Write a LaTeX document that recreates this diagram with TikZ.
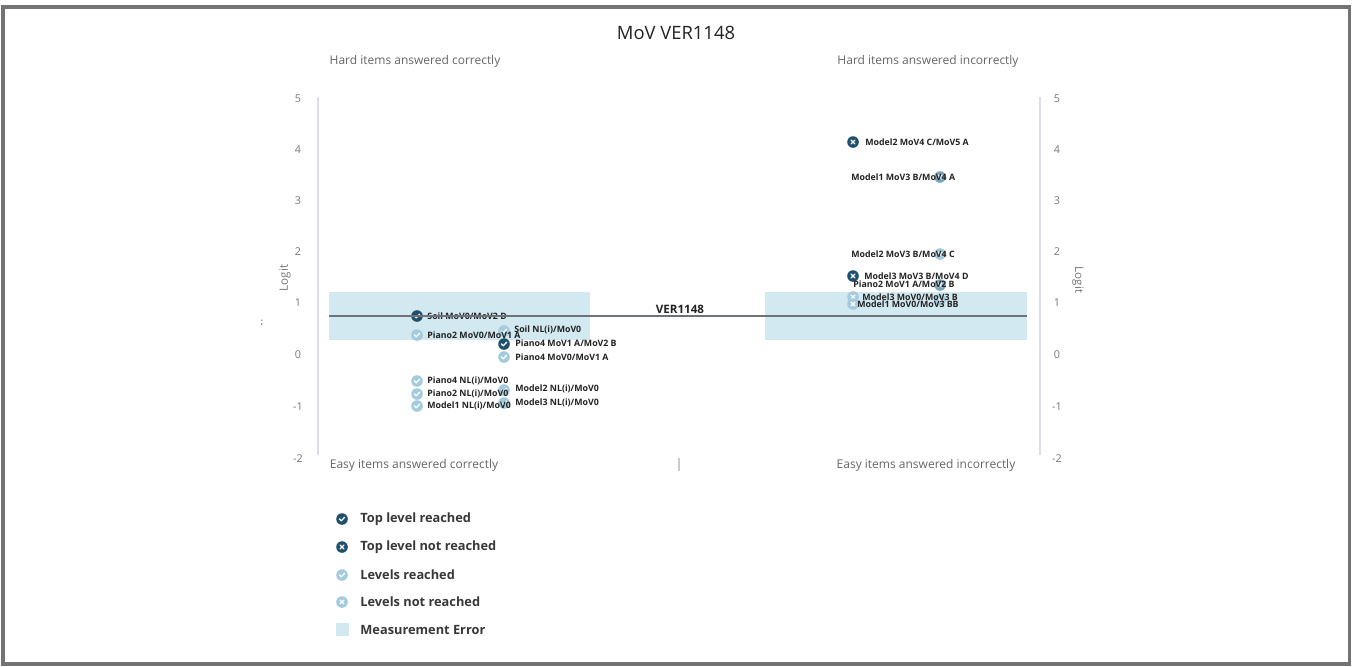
\documentclass[tikz,border=0pt]{standalone}
\usepackage{fontspec}
\setmainfont{Open Sans}
\definecolor{darkmark}{HTML}{1E4F6C}
\definecolor{lightmark}{HTML}{A3CBDD}
\definecolor{errfill}{HTML}{D2E9F2}
\definecolor{axisline}{HTML}{DCDCE8}
\definecolor{ticktext}{HTML}{777777}
\definecolor{inktext}{HTML}{222222}
\definecolor{meanline}{HTML}{6E7378}
\tikzset{
  mark base/.style={circle, inner sep=0pt, minimum size=5.8pt},
  check mark/.style={mark base, fill=#1, path picture={
      \draw[white, line width=0.65pt, line cap=round, line join=round]
        ([xshift=-1.3pt,yshift=0.1pt]path picture bounding box.center) --
        ([xshift=-0.35pt,yshift=-0.9pt]path picture bounding box.center) --
        ([xshift=1.3pt,yshift=0.9pt]path picture bounding box.center);}},
  cross mark/.style={mark base, fill=#1, path picture={
      \draw[white, line width=0.65pt, line cap=round]
        ([xshift=-1pt,yshift=-1pt]path picture bounding box.center) --
        ([xshift=1pt,yshift=1pt]path picture bounding box.center)
        ([xshift=-1pt,yshift=1pt]path picture bounding box.center) --
        ([xshift=1pt,yshift=-1pt]path picture bounding box.center);}},
  topok/.style={check mark=darkmark},
  topno/.style={cross mark=darkmark},
  lvok/.style={check mark=lightmark},
  lvno/.style={cross mark=lightmark},
  itemlabel/.style={inner sep=0pt, anchor=west, text=inktext,
      font=\fontsize{4.4}{5}\selectfont\bfseries},
  ticklabel/.style={inner sep=0pt, text=ticktext, font=\fontsize{5.4}{6}\selectfont},
  sidelabel/.style={inner sep=0pt, text=ticktext!85!black, font=\fontsize{6}{7}\selectfont},
  legendlabel/.style={inner sep=0pt, anchor=west, text=inktext!90!white,
      font=\fontsize{6.4}{7}\selectfont\bfseries},
  errbox/.style={fill=errfill, draw=none},
  frame/.style={draw=gray!90!black, line width=1.6pt}
}
\begin{document}
\begin{tikzpicture}[x=0.5pt,y=-0.5pt]
\useasboundingbox (0,0) rectangle (1352,666);
\draw[frame] (3,7) rectangle (1349.5,664);

% title and quadrant captions
\node[inner sep=0pt, text=inktext, font=\fontsize{9.2}{10}\selectfont] (title) at (676,33) {MoV VER1148};
\node[sidelabel] (hc) at (415,61) {Hard items answered correctly};
\node[sidelabel] (hi) at (928,61) {Hard items answered incorrectly};
\node[sidelabel] (ec) at (414,465) {Easy items answered correctly};
\node[sidelabel] (ei) at (926,465) {Easy items answered incorrectly};

% measurement error bands
\fill[errbox] (329,292) rectangle (590,340);
\fill[errbox] (765,292) rectangle (1027,340);

% axes
\coordinate (la1) at (318,97);  \coordinate (la2) at (318,455);
\coordinate (ra1) at (1040,97); \coordinate (ra2) at (1040,455);
\draw[axisline, line width=0.8pt] (la1) -- (la2);
\draw[axisline, line width=0.8pt] (ra1) -- (ra2);
\coordinate (mt1) at (679,458); \coordinate (mt2) at (679,471);
\draw[axisline!80!gray, line width=0.6pt] (mt1) -- (mt2);

\foreach \v/\yy in {5/99,4/150,3/201,2/252,1/303,0/355,-1/407,-2/459}{
  \node[ticklabel] (lt\v) at (298,\yy) {\v};
  \node[ticklabel] (rt\v) at (1057,\yy) {\v};
}
\node[ticklabel, font=\fontsize{5.8}{6}\selectfont, rotate=90] (logitl) at (285,278) {Logit};
\node[ticklabel, font=\fontsize{5.8}{6}\selectfont, rotate=-90] (logitr) at (1078,280) {Logit};
\node[ticklabel, font=\fontsize{4}{5}\selectfont\bfseries] (stray) at (262,323) {;};

% left panel markers: items answered correctly
\node[topok] (a1) at (417,316) {};
\node[lvok] (a2) at (417,335) {};
\node[lvok] (a3) at (504,331) {};
\node[topok] (a4) at (504,344) {};
\node[lvok] (a5) at (504,357) {};
\node[lvok] (a6) at (417,381) {};
\node[lvok] (a7) at (417,394) {};
\node[lvok] (a8) at (417,406) {};
\node[lvok] (a9) at (504,390) {};
\node[lvok] (a10) at (504,403) {};

% right panel markers: items answered incorrectly
\node[topno] (b1) at (853,142) {};
\node[lvno, fill=lightmark!70!darkmark] (b2) at (940,177) {};
\node[lvno] (b3) at (940,254) {};
\node[topno] (b4) at (853,276) {};
\node[lvno, fill=lightmark!70!darkmark] (b5) at (940,285) {};
\node[lvno] (b6) at (853,297) {};
\node[lvno] (b6b) at (940,300) {};
\node[lvno] (b7) at (853,304) {};

% item labels, set over the markers
\node[itemlabel] (a1l) at (427,316) {Soil MoV0/MoV2 D};
\node[itemlabel] (a2l) at (427,335) {Piano2 MoV0/MoV1 A};
\node[itemlabel] (a3l) at (514,330) {Soil NL(i)/MoV0};
\node[itemlabel] (a4l) at (515,343) {Piano4 MoV1 A/MoV2 B};
\node[itemlabel] (a5l) at (515,357) {Piano4 MoV0/MoV1 A};
\node[itemlabel] (a6l) at (427,381) {Piano4 NL(i)/MoV0};
\node[itemlabel] (a7l) at (427,394) {Piano2 NL(i)/MoV0};
\node[itemlabel] (a8l) at (427,406) {Model1 NL(i)/MoV0};
\node[itemlabel] (a9l) at (515,389) {Model2 NL(i)/MoV0};
\node[itemlabel] (a10l) at (515,403) {Model3 NL(i)/MoV0};
\node[itemlabel] (b1l) at (865,142) {Model2 MoV4 C/MoV5 A};
\node[itemlabel] (b2l) at (851,177) {Model1 MoV3 B/MoV4 A};
\node[itemlabel] (b3l) at (851,254) {Model2 MoV3 B/MoV4 C};
\node[itemlabel] (b4l) at (864,276) {Model3 MoV3 B/MoV4 D};
\node[itemlabel] (b5l) at (853,284) {Piano2 MoV1 A/MoV2 B};
\node[itemlabel] (b6l) at (862,297) {Model3 MoV0/MoV3 B};
\node[itemlabel] (b7l) at (857,304) {Model1 MoV0/MoV3 BB};

% person measure
\coordinate (m1) at (329,316); \coordinate (m2) at (1027,316);
\draw[meanline, line width=0.8pt] (m1) -- (m2);
\node[inner sep=0pt, text=inktext, font=\fontsize{5.8}{7}\selectfont\bfseries] (ver) at (680,309) {VER1148};

% legend
\node[topok] (k1) at (342,519) {};
\node[legendlabel] (k1l) at (360,519) {Top level reached};
\node[topno] (k2) at (342,547) {};
\node[legendlabel] (k2l) at (360,547) {Top level not reached};
\node[lvok] (k3) at (342,575) {};
\node[legendlabel] (k3l) at (360,575) {Levels reached};
\node[lvno] (k4) at (342,602) {};
\node[legendlabel] (k4l) at (360,602) {Levels not reached};
\node[errbox, minimum size=6.5pt, inner sep=0pt] (k5) at (342,629) {};
\node[legendlabel] (k5l) at (360,630) {Measurement Error};
\end{tikzpicture}
\end{document}
